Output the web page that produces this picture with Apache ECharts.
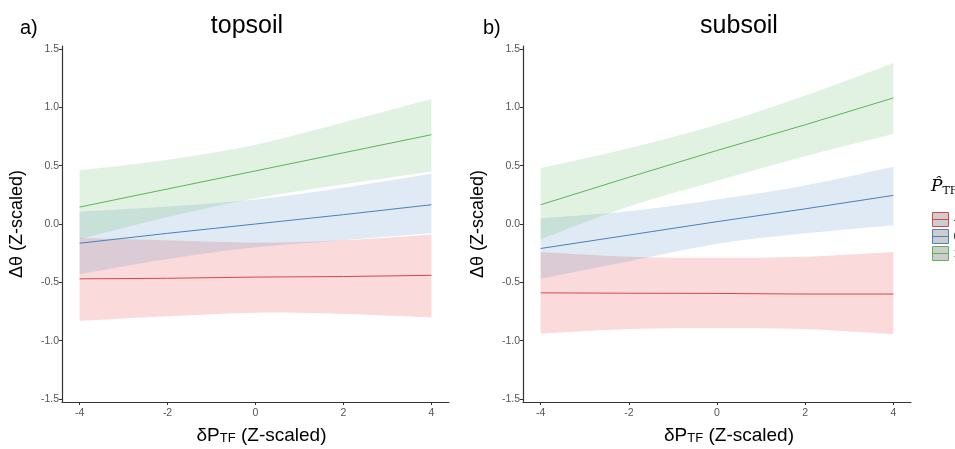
<!DOCTYPE html>
<html>
<head>
<meta charset="utf-8">
<script src="https://cdn.jsdelivr.net/npm/echarts@6/dist/echarts.min.js"></script>
<style>
  html, body { margin: 0; padding: 0; background: #fff; }
  #chart { width: 955px; height: 449px; }
</style>
</head>
<body>
<div id="chart"></div>
<script>
var X_PTS = [-4, -2, 0, 2, 4];
var X_TICKS = [-4, -2, 0, 2, 4];
var Y_TICKS = [-1.5, -1.0, -0.5, 0, 0.5, 1.0, 1.5];
var GROUPS = ['-1', '0', '1'];

// topsoil
var TOP_RED_FIT   = [-0.47, -0.465, -0.455, -0.45, -0.44];
var TOP_RED_LO    = [-0.83, -0.79, -0.76, -0.77, -0.80];
var TOP_RED_HI    = [-0.12, -0.14, -0.16, -0.14, -0.09];
var TOP_BLUE_FIT  = [-0.165, -0.08, 0.0, 0.08, 0.165];
var TOP_BLUE_LO   = [-0.43, -0.30, -0.20, -0.14, -0.08];
var TOP_BLUE_HI   = [0.105, 0.15, 0.21, 0.31, 0.43];
var TOP_GREEN_FIT = [0.145, 0.30, 0.455, 0.61, 0.765];
var TOP_GREEN_LO  = [-0.13, 0.06, 0.22, 0.34, 0.45];
var TOP_GREEN_HI  = [0.46, 0.55, 0.68, 0.87, 1.07];

// subsoil
var SUB_RED_FIT   = [-0.59, -0.593, -0.595, -0.60, -0.60];
var SUB_RED_LO    = [-0.94, -0.90, -0.89, -0.90, -0.945];
var SUB_RED_HI    = [-0.24, -0.28, -0.29, -0.28, -0.24];
var SUB_BLUE_FIT  = [-0.21, -0.095, 0.02, 0.13, 0.245];
var SUB_BLUE_LO   = [-0.47, -0.32, -0.17, -0.08, -0.01];
var SUB_BLUE_HI   = [0.05, 0.11, 0.21, 0.33, 0.49];
var SUB_GREEN_FIT = [0.165, 0.40, 0.63, 0.85, 1.08];
var SUB_GREEN_LO  = [-0.13, 0.15, 0.37, 0.58, 0.77];
var SUB_GREEN_HI  = [0.48, 0.65, 0.85, 1.10, 1.38];

var LINE_COLORS = ['#d9474a', '#4b80ba', '#5cb45a'];
var FILL_COLORS = ['rgba(228,26,28,0.16)', 'rgba(55,126,184,0.16)', 'rgba(77,175,74,0.16)'];
var FONT = '"Liberation Sans", Arial, sans-serif';

function pairs(ys) {
  return X_PTS.map(function (x, i) { return [x, ys[i]]; });
}

function bandData(lo, hi) {
  return X_PTS.map(function (x, i) { return [x, lo[i], hi[i]]; });
}

// smooth curve through pixel points (catmull-rom -> cubic bezier)
function curve(p, start) {
  var d = start ? 'M' + p[0][0] + ',' + p[0][1] : 'L' + p[0][0] + ',' + p[0][1];
  for (var i = 0; i < p.length - 1; i++) {
    var a = p[i - 1] || p[i], b = p[i], c = p[i + 1], e = p[i + 2] || p[i + 1];
    var c1x = b[0] + (c[0] - a[0]) / 6, c1y = b[1] + (c[1] - a[1]) / 6;
    var c2x = c[0] - (e[0] - b[0]) / 6, c2y = c[1] - (e[1] - b[1]) / 6;
    d += 'C' + c1x + ',' + c1y + ' ' + c2x + ',' + c2y + ' ' + c[0] + ',' + c[1];
  }
  return d;
}

function renderBand(color) {
  return function (params, api) {
    if (params.dataIndexInside !== 0) return null;
    var n = X_PTS.length, up = [], dn = [];
    for (var i = 0; i < n; i++) {
      up.push(api.coord([api.value(0, i), api.value(2, i)]));
      dn.push(api.coord([api.value(0, i), api.value(1, i)]));
    }
    dn.reverse();
    return {
      type: 'path',
      shape: { pathData: curve(up, true) + curve(dn, false) + 'Z' },
      style: { fill: color, stroke: null }
    };
  };
}

function panelSeries(idx, fits, los, his) {
  var out = [];
  GROUPS.forEach(function (g, k) {
    out.push({
      type: 'custom', name: 'band ' + g, xAxisIndex: idx, yAxisIndex: idx,
      silent: true, z: 1, clip: true,
      renderItem: renderBand(FILL_COLORS[k]),
      encode: { x: 0, y: [1, 2] },
      data: bandData(los[k], his[k])
    });
  });
  GROUPS.forEach(function (g, k) {
    out.push({
      type: 'line', name: g, xAxisIndex: idx, yAxisIndex: idx,
      symbol: 'none', z: 3,
      itemStyle: { color: LINE_COLORS[k] },
      lineStyle: { color: LINE_COLORS[k], width: 1 },
      data: pairs(fits[k])
    });
  });
  return out;
}

function xAxisFor(idx, shift) {
  return {
    type: 'value', gridIndex: idx, min: -4.4, max: 4.4,
    name: '{a|δP}{s|TF}{a| (Z-scaled)}',
    nameLocation: 'middle', nameGap: 24,
    nameTextStyle: {
      padding: [0, 0, 0, shift],
      rich: {
        a: { fontSize: 19, fontFamily: FONT, color: '#000' },
        s: { fontSize: 13, fontFamily: FONT, color: '#000', verticalAlign: 'bottom', padding: [6, 0, 0, 0] }
      }
    },
    axisLine: { onZero: false, lineStyle: { color: '#333', width: 1.2 } },
    axisTick: { show: true, length: 3, customValues: X_TICKS, lineStyle: { color: '#333' } },
    axisLabel: { customValues: X_TICKS, fontSize: 10.5, color: '#555', fontFamily: FONT, margin: 6 },
    splitLine: { show: false }
  };
}

function yAxisFor(idx) {
  return {
    type: 'value', gridIndex: idx, min: -1.525, max: 1.525,
    name: 'Δθ (Z-scaled)', nameLocation: 'middle', nameGap: 36,
    nameTextStyle: { fontSize: 18, fontFamily: FONT, color: '#000' },
    axisLine: { onZero: false, lineStyle: { color: '#333', width: 1.2 } },
    axisTick: { show: true, length: 3, customValues: Y_TICKS, lineStyle: { color: '#333' } },
    axisLabel: {
      customValues: Y_TICKS, fontSize: 10.5, color: '#555', fontFamily: FONT, margin: 3,
      formatter: function (v) { return v.toFixed(1); }
    },
    splitLine: { show: false }
  };
}

var chart = echarts.init(document.getElementById('chart'), null, { renderer: 'canvas' });

var series = []
  .concat(panelSeries(0, [TOP_RED_FIT, TOP_BLUE_FIT, TOP_GREEN_FIT],
                         [TOP_RED_LO, TOP_BLUE_LO, TOP_GREEN_LO],
                         [TOP_RED_HI, TOP_BLUE_HI, TOP_GREEN_HI]))
  .concat(panelSeries(1, [SUB_RED_FIT, SUB_BLUE_FIT, SUB_GREEN_FIT],
                         [SUB_RED_LO, SUB_BLUE_LO, SUB_GREEN_LO],
                         [SUB_RED_HI, SUB_BLUE_HI, SUB_GREEN_HI]));

var KEY_ICON = 'path://M0,0L16,0L16,14L0,14Z M0,7L16,7';

chart.setOption({
  animation: false,
  backgroundColor: '#fff',
  grid: [
    { left: 62, top: 46, width: 387, height: 356, containLabel: false, outerBoundsMode: 'none' },
    { left: 523, top: 46, width: 388, height: 356, containLabel: false, outerBoundsMode: 'none' }
  ],
  xAxis: [xAxisFor(0, 12), xAxisFor(1, 24)],
  yAxis: [yAxisFor(0), yAxisFor(1)],
  legend: {
    orient: 'vertical', left: 927, top: 207,
    itemWidth: 16, itemHeight: 15, itemGap: 2,
    selectedMode: false,
    textStyle: { fontSize: 11, color: '#333', fontFamily: FONT },
    data: GROUPS.map(function (g, k) {
      return {
        name: g, icon: KEY_ICON,
        itemStyle: { color: '#cdcdcd', borderColor: LINE_COLORS[k], borderWidth: 1 }
      };
    })
  },
  graphic: [
    { type: 'text', x: 20, y: 28, style: { text: 'a)', fontSize: 20, fontFamily: FONT, fill: '#000', align: 'left', verticalAlign: 'middle' } },
    { type: 'text', x: 483, y: 28, style: { text: 'b)', fontSize: 20, fontFamily: FONT, fill: '#000', align: 'left', verticalAlign: 'middle' } },
    { type: 'text', x: 247, y: 26, style: { text: 'topsoil', fontSize: 25, fontFamily: FONT, fill: '#000', align: 'center', verticalAlign: 'middle' } },
    { type: 'text', x: 739, y: 26, style: { text: 'subsoil', fontSize: 25, fontFamily: FONT, fill: '#000', align: 'center', verticalAlign: 'middle' } },
    {
      type: 'text', x: 931, y: 187,
      style: {
        text: '{p|P\u0302}{s|TF}', align: 'left', verticalAlign: 'middle',
        rich: {
          p: { fontSize: 17, fontFamily: '"DejaVu Serif", serif', fontStyle: 'italic', fill: '#000' },
          s: { fontSize: 11, fontFamily: '"DejaVu Serif", serif', fill: '#000', verticalAlign: 'bottom', padding: [8, 0, 0, 0] }
        }
      }
    }
  ],
  series: series
});
</script>
</body>
</html>
